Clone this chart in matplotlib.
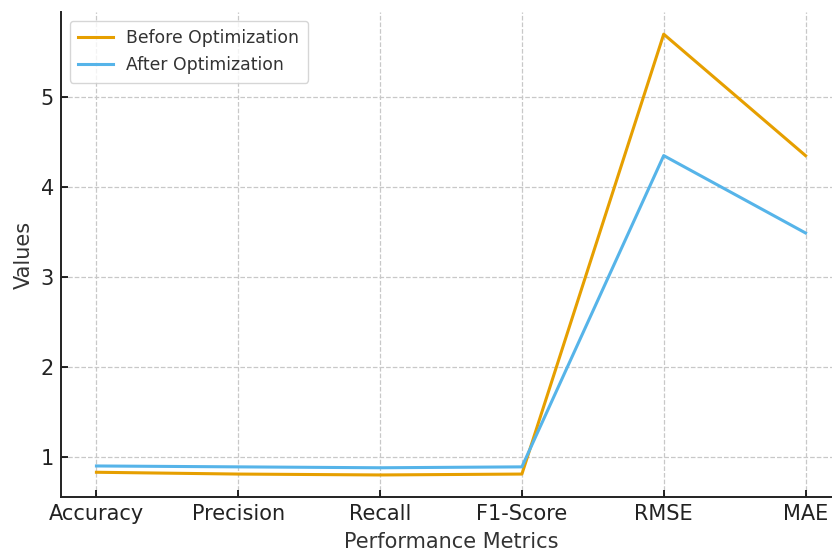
import matplotlib.pyplot as plt

# Data
metrics = ['Accuracy', 'Precision', 'Recall', 'F1-Score', 'RMSE', 'MAE']
before = [0.83, 0.81, 0.80, 0.81, 5.70, 4.35]
after = [0.90, 0.89, 0.88, 0.89, 4.35, 3.49]

fig = plt.figure(figsize=(8.32, 5.51), dpi=100)
ax = fig.add_axes([0.0733, 0.098, 0.9375, 0.880])

ax.plot(metrics, before, color='#E69F00', linewidth=2.2, label='Before Optimization')
ax.plot(metrics, after, color='#56B4E9', linewidth=2.2, label='After Optimization')

ax.set_xlabel('Performance Metrics', fontsize=15, color='#333333', labelpad=6)
ax.set_ylabel('Values', fontsize=15, color='#333333', labelpad=5)
ax.set_yticks([1, 2, 3, 4, 5])
ax.tick_params(direction='in', labelsize=15, labelcolor='#222222', length=5, width=1.2, pad=5)
ax.grid(True, linestyle='--', color='#c8c8c8', linewidth=0.9)

for s in ['top', 'right']:
    ax.spines[s].set_visible(False)
for s in ['left', 'bottom']:
    ax.spines[s].set_linewidth(1.4)
    ax.spines[s].set_color('#222222')

leg = ax.legend(loc='upper left', fontsize=12.4, labelcolor='#333333', borderpad=0.5,
                handlelength=2.0)

fig.savefig('out.png', dpi=100)
